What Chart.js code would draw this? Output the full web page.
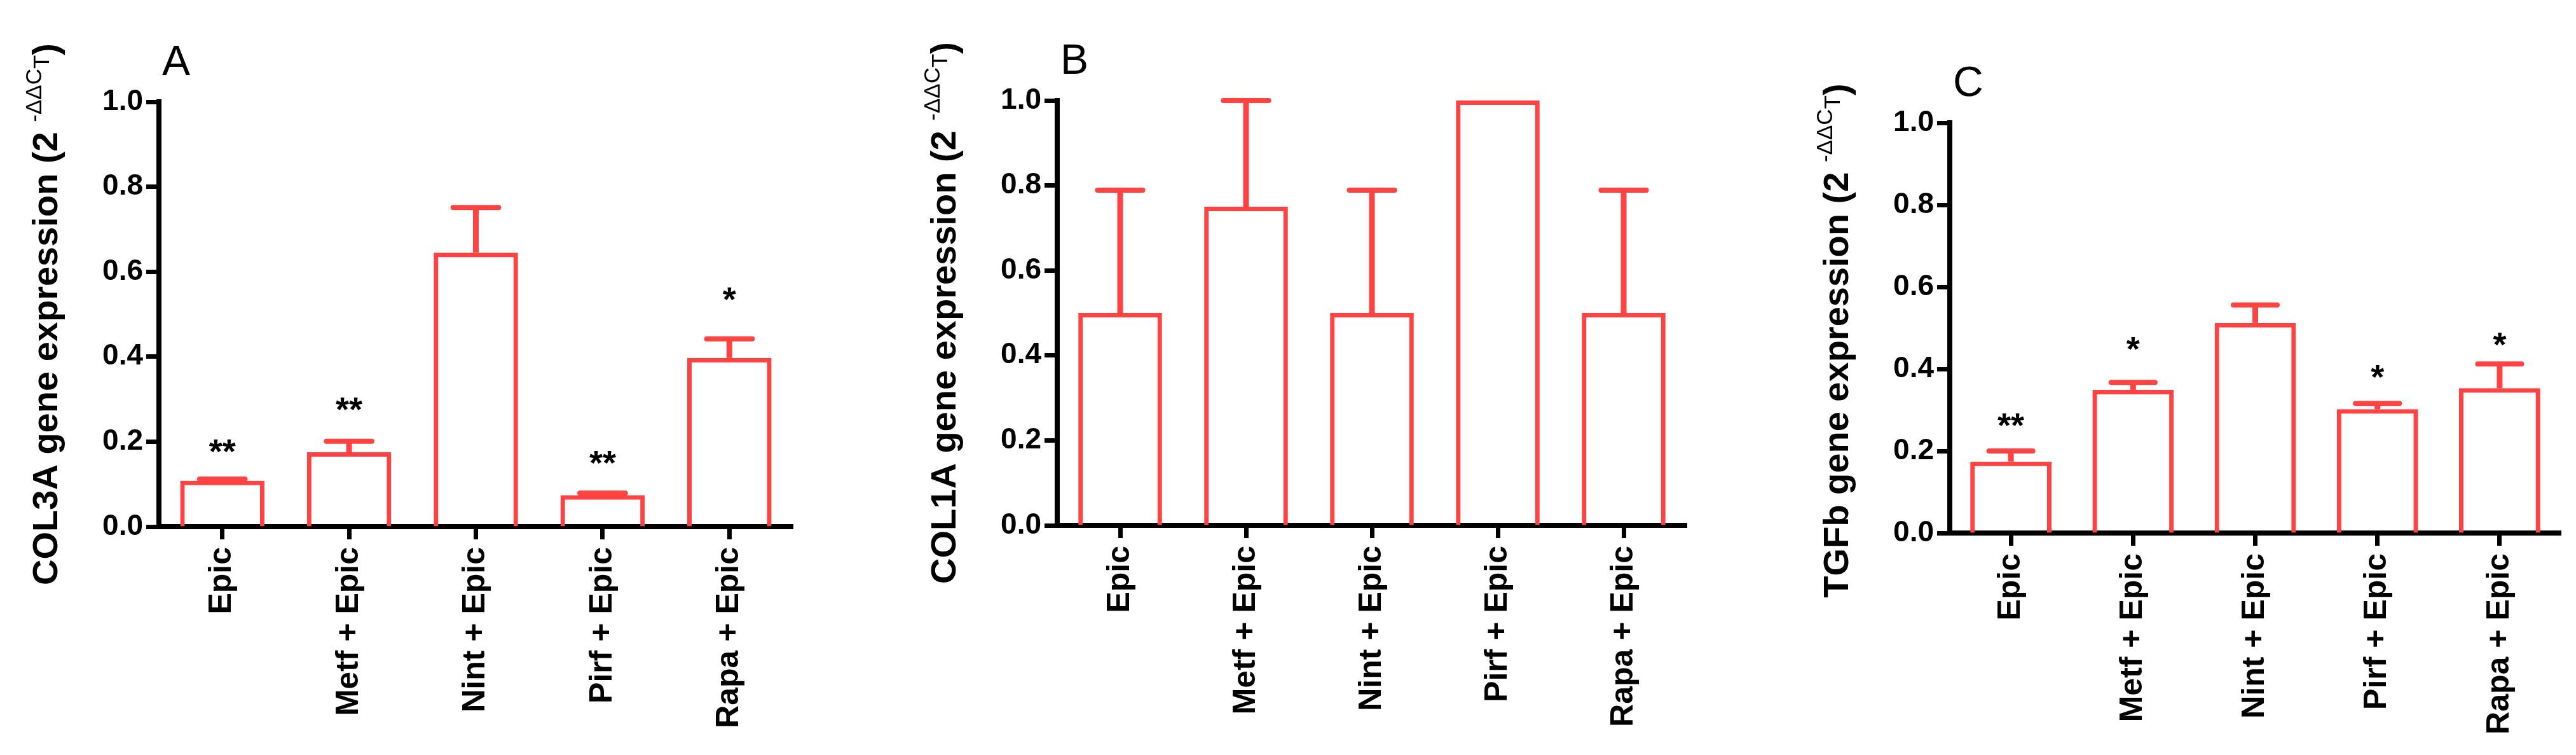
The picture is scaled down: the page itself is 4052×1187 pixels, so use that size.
<!DOCTYPE html>
<html>
<head>
<meta charset="utf-8">
<script src="https://cdn.jsdelivr.net/npm/chart.js@4.4.1/dist/chart.umd.min.js"></script>
<style>
body { margin: 0; background: white; width: 4052px; height: 1187px; overflow: hidden; position: relative; }
.panel { position: absolute; top: 0; height: 1187px; }
</style>
</head>
<body>
<div class="panel" style="left:0;width:1350px"><canvas id="chartA"></canvas></div>
<div class="panel" style="left:1350px;width:1350px"><canvas id="chartB"></canvas></div>
<div class="panel" style="left:2700px;width:1352px"><canvas id="chartC"></canvas></div>
<script>
const categories = ["Epic", "Metf + Epic", "Nint + Epic", "Pirf + Epic", "Rapa + Epic"]
const yTicks = [0, 0.2, 0.4, 0.6, 0.8, 1.0]

const col3aMean = [0.108, 0.175, 0.645, 0.074, 0.397]
const col3aErr = [0.004, 0.026, 0.106, 0.005, 0.045]
const col3aStars = ["**", "**", "", "**", "*"]
const col3aStarLevel = [0.190, 0.289, null, 0.163, 0.548]

const col1aMean = [0.5, 0.75, 0.5, 1.0, 0.5]
const col1aErr = [0.289, 0.25, 0.289, 0, 0.289]
const col1aStars = ["", "", "", "", ""]
const col1aStarLevel = [null, null, null, null, null]

const tgfbMean = [0.174, 0.349, 0.512, 0.302, 0.353]
const tgfbErr = [0.026, 0.018, 0.044, 0.014, 0.059]
const tgfbStars = ["**", "*", "", "*", "*"]
const tgfbStarLevel = [0.276, 0.462, null, 0.394, 0.473]

const red = "#ff4242"
const FONT = "'Liberation Sans', Arial, sans-serif"

const errorBars = {
    id: 'errorBars',
    afterDatasetsDraw(chart, args, opts) {
        const ctx = chart.ctx
        const y = chart.scales.y
        const meta = chart.getDatasetMeta(0)
        const values = chart.data.datasets[0].data
        ctx.save()
        ctx.strokeStyle = red
        opts.errors.forEach((e, i) => {
            if (!e) return
            const bar = meta.data[i]
            const yBar = y.getPixelForValue(values[i])
            const yTop = y.getPixelForValue(values[i] + e)
            ctx.lineWidth = 9
            ctx.lineCap = 'butt'
            ctx.beginPath()
            ctx.moveTo(bar.x, yBar)
            ctx.lineTo(bar.x, yTop)
            ctx.stroke()
            const half = bar.width * 0.27
            ctx.lineWidth = 8
            ctx.lineCap = 'round'
            ctx.beginPath()
            ctx.moveTo(bar.x - half, yTop)
            ctx.lineTo(bar.x + half, yTop)
            ctx.stroke()
        })
        ctx.fillStyle = 'black'
        ctx.textAlign = 'center'
        ctx.textBaseline = 'alphabetic'
        ctx.font = "bold 54px " + FONT
        opts.stars.forEach((s, i) => {
            if (!s) return
            const bar = meta.data[i]
            ctx.fillText(s, bar.x, y.getPixelForValue(opts.starLevel[i]) + 0.5 * 54)
        })
        ctx.restore()
    }
}

const panelText = {
    id: 'panelText',
    afterDraw(chart, args, opts) {
        const ctx = chart.ctx
        const a = chart.chartArea
        ctx.save()
        ctx.fillStyle = 'black'
        ctx.textBaseline = 'alphabetic'
        ctx.textAlign = 'left'
        ctx.font = "66px " + FONT
        ctx.fillText(opts.letter, a.left + 5, a.top - 42)

        ctx.translate(a.left - 180, (a.top + a.bottom) / 2 + opts.shift)
        ctx.rotate(-Math.PI / 2)
        const big = "bold 56px " + FONT
        const small = "35px " + FONT
        ctx.font = big
        const w1 = ctx.measureText(opts.main + " ").width
        const w4 = ctx.measureText(")").width
        ctx.font = small
        const w2 = ctx.measureText(opts.sup).width
        const w3 = ctx.measureText(opts.sub).width
        let x = -(w1 + w2 + w3 + w4) / 2
        const base = 20
        ctx.font = big
        ctx.fillText(opts.main + " ", x, base)
        x += w1
        ctx.font = small
        ctx.fillText(opts.sup, x, base - 25)
        x += w2
        ctx.fillText(opts.sub, x, base - 13)
        x += w3
        ctx.font = big
        ctx.fillText(")", x, base)
        ctx.restore()
    }
}

function makeChart(id, values, errors, stars, starLevel, title, letter, box) {
    const ctx = document.getElementById(id).getContext('2d')
    return new Chart(ctx, {
        type: 'bar',
        data: {
            labels: categories,
            datasets: [{
                data: values,
                backgroundColor: 'rgba(255,255,255,0)',
                borderColor: red,
                borderWidth: 7,
                borderSkipped: 'start',
                barPercentage: 0.665,
                categoryPercentage: 1
            }]
        },
        options: {
            responsive: true,
            maintainAspectRatio: false,
            animation: false,
            events: [],
            layout: { padding: { left: 0, top: box.top, right: box.width - box.right, bottom: 0 } },
            scales: {
                x: {
                    afterFit(scale) { scale.height = 1187 - box.bottom },
                    grid: { display: true, drawOnChartArea: false, offset: false, tickLength: 20, tickWidth: 7, tickColor: 'black' },
                    border: { display: true, width: 8, color: 'black' },
                    ticks: {
                        autoSkip: false, minRotation: 90, maxRotation: 90, padding: 12,
                        color: 'black', font: { family: FONT, size: 50, weight: 'bold' }
                    }
                },
                y: {
                    min: 0, max: 1,
                    afterFit(scale) { scale.width = box.left },
                    afterBuildTicks(scale) { scale.ticks = yTicks.map(v => ({ value: v })) },
                    grid: { display: true, drawOnChartArea: false, tickLength: 20, tickWidth: 7, tickColor: 'black' },
                    border: { display: true, width: 8, color: 'black' },
                    ticks: {
                        padding: 5, color: 'black',
                        font: { family: FONT, size: 46, weight: 'bold' },
                        callback: v => Number(v).toFixed(1)
                    }
                }
            },
            plugins: {
                legend: { display: false },
                tooltip: { enabled: false },
                errorBars: { errors: errors, stars: stars, starLevel: starLevel },
                panelText: { letter: letter, main: title, sup: "-\u0394\u0394C", sub: "T", shift: box.shift }
            }
        },
        plugins: [errorBars, panelText]
    })
}

makeChart("chartA", col3aMean, col3aErr, col3aStars, col3aStarLevel, "COL3A gene expression (2", "A",
    { left: 250, right: 1247, top: 160, bottom: 828, width: 1350, shift: 0 })
makeChart("chartB", col1aMean, col1aErr, col1aStars, col1aStarLevel, "COL1A gene expression (2", "B",
    { left: 313, right: 1303, top: 158, bottom: 826, width: 1350, shift: 0 })
makeChart("chartC", tgfbMean, tgfbErr, tgfbStars, tgfbStarLevel, "TGFb gene expression (2", "C",
    { left: 367, right: 1328, top: 193, bottom: 838, width: 1352, shift: 20 })
</script>
</body>
</html>
